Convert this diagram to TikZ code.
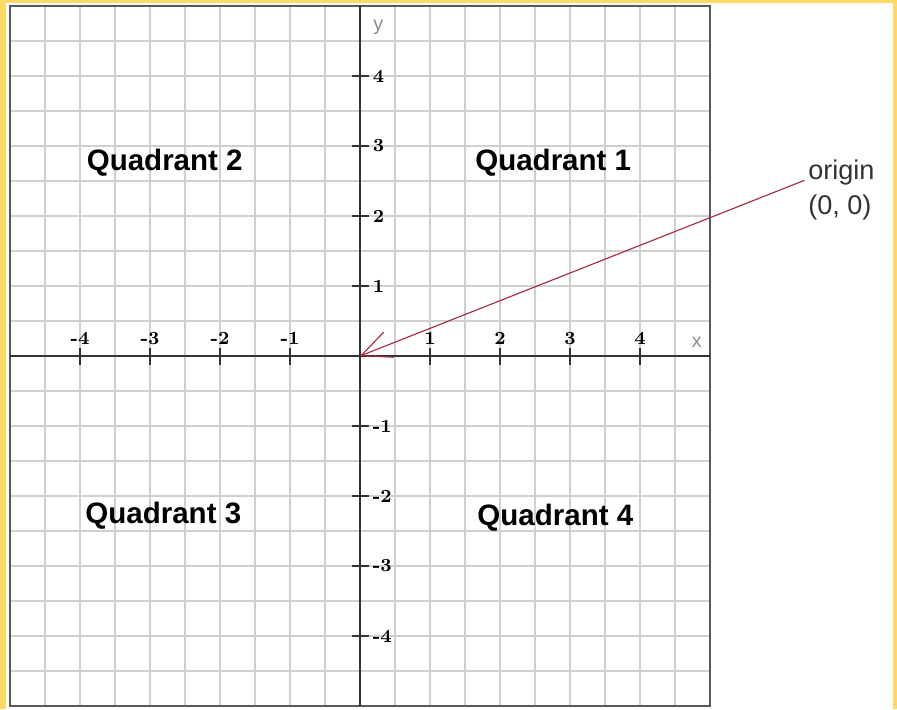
\documentclass[tikz,border=0pt]{standalone}
\usepackage{fontspec}
\newfontfamily\quadfont{Liberation Sans}
\usetikzlibrary{arrows.meta}
\definecolor{framey}{RGB}{255,217,102}
\definecolor{arrowred}{RGB}{165,40,60}
\definecolor{gridgray}{RGB}{208,208,208}

\begin{document}
\begin{tikzpicture}[
    gridline/.style={gridgray, line width=0.7pt},
    axisline/.style={black!80, line width=0.6pt},
    ticklabel/.style={font=\fontsize{7.5}{8}\selectfont\bfseries, inner sep=1pt},
    quadlabel/.style={font=\quadfont\fontsize{12}{14}\selectfont\bfseries},
    axisname/.style={black!45, font=\quadfont\fontsize{8}{9}\selectfont},
    pointer/.style={arrowred, line width=0.45pt, -{Straight Barb[length=12pt, width=11pt]}}
]
    % Yellow frame round the page
    \fill[framey] (-5.143,-5.043) rectangle (7.671,5.086);
    \fill[white] (-5.057,-5.043) rectangle (7.614,5.043);
    \useasboundingbox (-5.143,-5.043) rectangle (7.671,5.086);

    % Draw the grid
    \draw[gridline] (-5,-5) grid[step=0.5] (5,5);
    \draw[black!65, line width=1pt] (-5,-5) rectangle (5,5);

    % Draw the axes
    \draw[axisline] (-5,0) -- (5,0);
    \draw[axisline] (0,-5) -- (0,5);
    \node[axisname] (xname) at (4.81,0.2) {x};
    \node[axisname] (yname) at (0.26,4.7) {y};

    % Ticks and numbers
    \foreach \i [count=\k] in {-4,-3,-2,-1,1,2,3,4} {
        \draw[axisline] (\i,0.12) -- (\i,-0.13);
        \node[ticklabel] (xt\k) at (\i,0.25) {\i};
        \draw[axisline] (-0.11,\i) -- (0.13,\i);
        \node[ticklabel, anchor=west] (yt\k) at (0.14,\i) {\i};
    }

    % Quadrant names
    \node[quadlabel] (q1) at (2.76,2.76) {Quadrant 1};
    \node[quadlabel] (q2) at (-2.79,2.76) {Quadrant 2};
    \node[quadlabel] (q3) at (-2.81,-2.28) {Quadrant 3};
    \node[quadlabel] (q4) at (2.79,-2.31) {Quadrant 4};

    % Origin label and pointer
    \coordinate (O) at (0,0);
    \coordinate (tail) at (6.35,2.51);
    \node[font=\quadfont\fontsize{11}{14}\selectfont, text=black!80, align=left, anchor=west] (orig) at (6.28,2.37) {origin\\(0, 0)};
    \draw[pointer] (tail) -- (O);
\end{tikzpicture}
\end{document}
